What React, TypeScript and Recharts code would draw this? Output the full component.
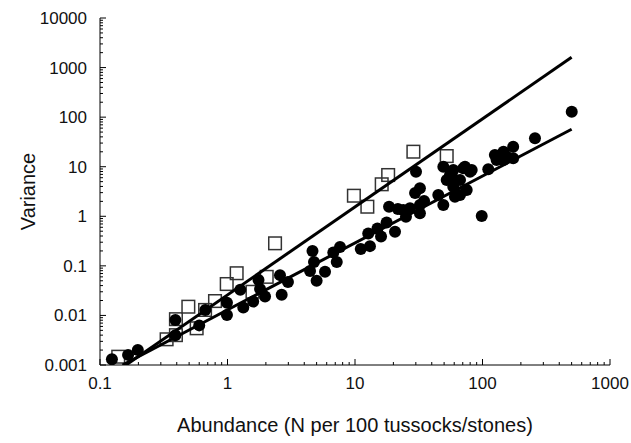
import { ScatterChart, Scatter, XAxis, YAxis } from "recharts";

// open squares
const SQUARE_X = [0.139, 0.333, 0.394, 0.394, 0.493, 0.573, 0.667, 0.798, 0.986, 1.18, 1.57, 2.03, 2.36, 9.8, 12.5, 16.2, 18.2, 28.7, 52.4];
const SQUARE_Y = [0.00147, 0.0033, 0.0084, 0.004, 0.015, 0.0055, 0.0129, 0.0195, 0.043, 0.071, 0.03, 0.06, 0.285, 2.6, 1.56, 4.42, 6.8, 20.1, 16.4];

// filled circles
const CIRCLE_X = [
  0.124, 0.166, 0.198, 0.39, 0.39, 0.6, 0.67, 0.99, 0.99, 1.26, 1.33, 1.59, 1.75, 1.8, 1.97, 2.58, 2.66, 2.98,
  4.64, 4.77, 4.44, 5.0, 5.82, 6.76, 7.63, 7.19, 11.1, 13.1, 12.7, 15.0, 16.0, 17.7, 20.6, 18.5, 21.7, 25.1, 27,
  29.6, 30.1, 32.3, 34.8, 32.3, 32.3, 45, 49.3, 49.3, 52.4, 55.6, 59, 60.8, 59, 60.8, 66.6, 72.9, 75.2, 82.3, 66.6,
  98.6, 111, 125, 129, 146, 146, 174, 174, 155, 258, 501, 70.7, 79.8, 62.8, 23.9,
];
const CIRCLE_Y = [
  0.0013, 0.0016, 0.002, 0.0081, 0.004, 0.0063, 0.0129, 0.018, 0.0102, 0.033, 0.0145, 0.019, 0.052, 0.034, 0.024, 0.065, 0.026, 0.047,
  0.2, 0.12, 0.079, 0.05, 0.076, 0.186, 0.24, 0.12, 0.22, 0.25, 0.45, 0.57, 0.39, 0.75, 0.49, 1.56, 1.4, 0.98, 1.45,
  2.95, 7.9, 1.69, 2.03, 1.15, 3.67, 2.69, 10, 1.69, 5.4, 6.8, 8.6, 5.4, 3.95, 2.48, 2.69, 10, 3.39, 8.6, 5.4,
  1.01, 8.9, 17.2, 13.7, 20.1, 13.7, 25.3, 14.8, 15.9, 37.4, 129, 9.3, 7.9, 2.69, 1.34,
];

// fitted lines (end points)
const STEEP_X = [0.16, 500];
const STEEP_Y = [0.001, 1610];
const SHALLOW_X = [0.15, 500];
const SHALLOW_Y = [0.001, 57];

const X_TICKS = [0.1, 1, 10, 100, 1000];
const Y_TICKS = [0.001, 0.01, 0.1, 1, 10, 100, 1000, 10000];
const X_TITLE = "Abundance (N per 100 tussocks/stones)";
const Y_TITLE = "Variance";

const FONT = "'Liberation Sans', Arial, sans-serif";
const INK = "#111";
const MARGIN = 12;

const zip = (xs: number[], ys: number[]) => xs.map((x, i) => ({ x, y: ys[i] }));
const squares = zip(SQUARE_X, SQUARE_Y);
const circles = zip(CIRCLE_X, CIRCLE_Y);
const steep = zip(STEEP_X, STEEP_Y);
const shallow = zip(SHALLOW_X, SHALLOW_Y);

// majors plus 2..9 minor ticks of each decade
const withMinors = (majors: number[]) => {
  const out: number[] = [];
  majors.forEach((m, i) => {
    out.push(m);
    if (i < majors.length - 1) for (let k = 2; k <= 9; k++) out.push(m * k);
  });
  return out;
};
const isMajor = (majors: number[], v: number) => majors.some((t) => Math.abs(t - v) / t < 1e-9);

const XTick = (props: any) => {
  const { x, y, payload } = props;
  const major = isMajor(X_TICKS, payload.value);
  const ay = y - MARGIN;
  return (
    <g>
      <line x1={x} x2={x} y1={ay} y2={ay - (major ? 6 : 3)} stroke="#000" />
      {major && (
        <text x={x} y={y} dy="0.71em" textAnchor="middle" fontSize={17} fontFamily={FONT} fill={INK}>
          {String(payload.value)}
        </text>
      )}
    </g>
  );
};

const YTick = (props: any) => {
  const { x, y, payload } = props;
  const major = isMajor(Y_TICKS, payload.value);
  const ax = x + MARGIN;
  return (
    <g>
      <line x1={ax} x2={ax + (major ? 6 : 3)} y1={y} y2={y} stroke="#000" />
      {major && (
        <text x={x - 1} y={y} dy="0.35em" textAnchor="end" fontSize={17} fontFamily={FONT} fill={INK}>
          {String(payload.value)}
        </text>
      )}
    </g>
  );
};

const YTitle = (props: any) => {
  const vb = props.viewBox;
  const cx = vb.x + 28;
  const cy = vb.y + vb.height / 2;
  return (
    <text x={cx} y={cy} dy="0.35em" transform={`rotate(-90 ${cx} ${cy})`} textAnchor="middle" fontSize={20} fontFamily={FONT} fill={INK}>
      {Y_TITLE}
    </text>
  );
};

const Square = (props: any) => (
  <rect x={props.cx - 6.3} y={props.cy - 6.3} width={12.6} height={12.6} fill="none" stroke="#333" strokeWidth={1.5} />
);
const Dot = (props: any) => <circle cx={props.cx} cy={props.cy} r={6} fill="#000" />;
const Nothing = () => <g />;

export default function App() {
  return (
    <div style={{ position: "absolute", left: 0, top: 0 }}>
      <ScatterChart width={631} height={443} margin={{ top: 18, right: 21, bottom: 0, left: 0 }}>
        <XAxis
          dataKey="x"
          type="number"
          scale="log"
          domain={[0.1, 1000]}
          ticks={withMinors(X_TICKS)}
          interval={0}
          height={78}
          tickSize={0}
          tickMargin={MARGIN}
          tickLine={false}
          tick={<XTick />}
          axisLine={{ stroke: "#000" }}
          allowDataOverflow
          label={{ value: X_TITLE, position: "insideBottom", offset: 11, fontSize: 20, fontFamily: FONT, fill: INK }}
        />
        <YAxis
          dataKey="y"
          type="number"
          scale="log"
          domain={[0.001, 10000]}
          ticks={withMinors(Y_TICKS)}
          interval={0}
          width={100}
          tickSize={0}
          tickMargin={MARGIN}
          tickLine={false}
          tick={<YTick />}
          axisLine={{ stroke: "#000" }}
          allowDataOverflow
          label={{ content: (p: any) => <YTitle {...p} /> }}
        />
        <Scatter data={squares} shape={<Square />} isAnimationActive={false} />
        <Scatter data={circles} shape={<Dot />} isAnimationActive={false} />
        <Scatter data={steep} line={{ stroke: "#000", strokeWidth: 3 }} shape={<Nothing />} isAnimationActive={false} />
        <Scatter data={shallow} line={{ stroke: "#000", strokeWidth: 3 }} shape={<Nothing />} isAnimationActive={false} />
      </ScatterChart>
    </div>
  );
}
